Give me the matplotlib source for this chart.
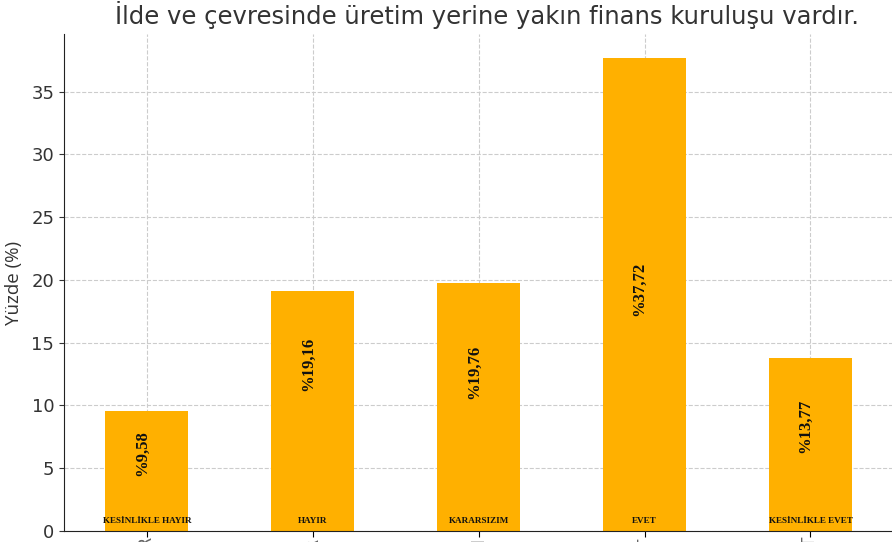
import matplotlib
matplotlib.use("Agg")
import matplotlib.pyplot as plt

categories = ["KESİNLİKLE HAYIR", "HAYIR", "KARARSIZIM", "EVET", "KESİNLİKLE EVET"]
values = [9.58, 19.16, 19.76, 37.72, 13.77]
value_labels = ["%9,58", "%19,16", "%19,76", "%37,72", "%13,77"]
label_centers = [6.2, 13.3, 12.7, 19.3, 8.4]
title = "İlde ve çevresinde üretim yerine yakın finans kuruluşu vardır."
ylabel = "Yüzde (%)"

fig = plt.figure(figsize=(8.92, 5.42), dpi=100)
ax = fig.add_axes([64/892, (542-531)/542, (910-64)/892, (531-34)/542])

x = list(range(len(categories)))
ax.bar(x, values, width=0.5, color="#FFB000", zorder=2)
ax.set_xlim(-0.5, 4.6)
ax.set_ylim(0, 39.6)
ax.set_yticks([0, 5, 10, 15, 20, 25, 30, 35])
ax.grid(True, color="#cccccc", linestyle="--", linewidth=0.8, zorder=0)
ax.set_axisbelow(True)
for s in ["top", "right"]:
    ax.spines[s].set_visible(False)
ax.spines["left"].set_color("#222222")
ax.spines["bottom"].set_color("#222222")
ax.tick_params(axis="y", labelsize=13, colors="#333333")
ax.tick_params(axis="x", length=4, pad=0)
ax.set_xticks(x)
ax.set_xticklabels(categories, rotation=90, fontsize=12, color="#666666")
ax.set_ylabel(ylabel, fontsize=13.5, family="Open Sans", color="#333333", labelpad=6)
ax.set_title(title, fontsize=17.5, color="#333333", pad=7)

for xi, v, lab, cy, cat in zip(x, values, value_labels, label_centers, categories):
    ax.text(xi - 0.03, cy, lab, rotation=90, ha="center", va="center",
            fontsize=12, fontweight="bold", family="Liberation Serif", color="#111111")
    ax.text(xi, 0.5, cat, ha="center", va="bottom", fontsize=6.6,
            fontweight="bold", family="Liberation Serif", color="#111111")

fig.savefig("out.png", dpi=100)
